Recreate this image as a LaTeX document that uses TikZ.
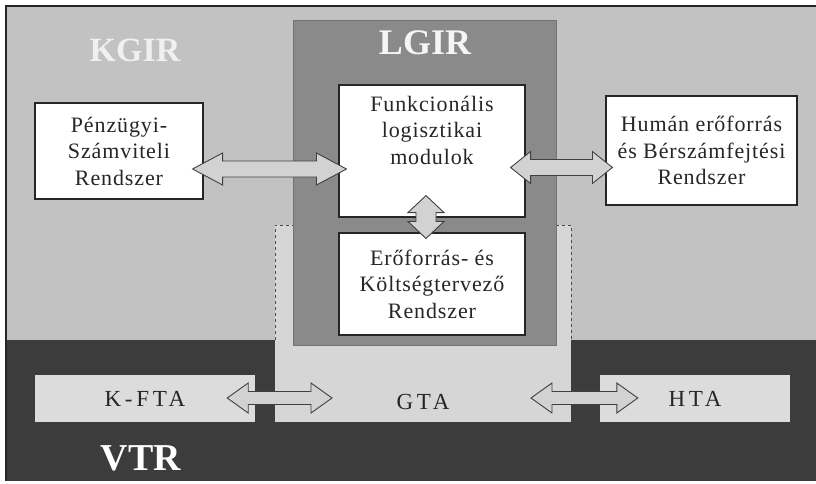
\documentclass[tikz,border=0pt]{standalone}
\usepackage{fontspec}
\setmainfont{Liberation Serif}
\newfontfamily\boxfont[LetterSpace=4]{Liberation Serif}
\newfontfamily\tafont[LetterSpace=16]{Liberation Serif}
\usetikzlibrary{positioning,calc}
\definecolor{kgirgray}{HTML}{C2C2C2}
\definecolor{lgirgray}{HTML}{8A8A8A}
\definecolor{vtrgray}{HTML}{3C3C3C}
\definecolor{gtagray}{HTML}{D6D6D6}
\definecolor{tagray}{HTML}{DCDCDC}
\definecolor{arrowgray}{HTML}{D2D2D2}
\tikzset{
  zone/.style={inner sep=0pt,outer sep=0pt},
  zonelabel/.style={inner sep=0pt,text=white},
  sysbox/.style={draw=black!85,line width=1.1pt,fill=white,inner sep=0pt,align=center,text=black!85,font=\boxfont\fontsize{22}{26.5}\selectfont},
  boxtext/.style={inner sep=0pt,align=center,text=black!85,font=\boxfont\fontsize{22}{26.5}\selectfont},
  tabox/.style={fill=tagray,inner sep=0pt,minimum height=47,text=black!85,font=\tafont\fontsize{23}{27}\selectfont},
  tatext/.style={inner sep=0pt,text=black!85,font=\tafont\fontsize{23}{27}\selectfont},
  zoneedge/.style={draw=black!70,dashed,line width=0.8pt},
  blockarrow/.style={draw=black!75,line width=0.9pt,fill=arrowgray,line join=miter}
}
% block double arrows: from, to, head length, head half size, shaft half size
\newcommand{\hdblarrow}[5]{%
  \path[blockarrow] let \p1=(#1), \p2=(#2) in
    (\x1,\y1) -- (\x1+#3pt,\y1+#4pt) -- (\x1+#3pt,\y1+#5pt) -- (\x2-#3pt,\y1+#5pt) -- (\x2-#3pt,\y1+#4pt)
    -- (\x2,\y1) -- (\x2-#3pt,\y1-#4pt) -- (\x2-#3pt,\y1-#5pt) -- (\x1+#3pt,\y1-#5pt) -- (\x1+#3pt,\y1-#4pt) -- cycle;}
\newcommand{\vdblarrow}[5]{%
  \path[blockarrow] let \p1=(#1), \p2=(#2) in
    (\x1,\y1) -- (\x1+#4pt,\y1-#3pt) -- (\x1+#5pt,\y1-#3pt) -- (\x1+#5pt,\y2+#3pt) -- (\x1+#4pt,\y2+#3pt)
    -- (\x1,\y2) -- (\x1-#4pt,\y2+#3pt) -- (\x1-#5pt,\y2+#3pt) -- (\x1-#5pt,\y1-#3pt) -- (\x1-#4pt,\y1-#3pt) -- cycle;}

\begin{document}
\begin{tikzpicture}[x=1pt,y=1pt]
  \useasboundingbox (0,0) rectangle (816,483);
  % zones
  \node[zone,fill=kgirgray,minimum width=810,minimum height=334] (kgir) at (411,310) {};
  \node[zone,fill=vtrgray,minimum width=810,minimum height=141] (vtr) at (411,72.5) {};
  \node[zone,fill=gtagray,minimum width=296,minimum height=197] (gtazone) at (423,159.5) {};
  \draw[zoneedge] (gtazone.north west |- kgir.south) -- (gtazone.north west) -- (gtazone.north east) -- (gtazone.north east |- kgir.south);
  \node[zone,fill=lgirgray,draw=black!55,line width=0.8pt,minimum width=263,minimum height=325] (lgir) at (424.5,300.5) {};
  \draw[black!85,line width=2pt] (vtr.south west) -- (kgir.north west) -- (kgir.north east);
  \node[zonelabel,text=black!6,font=\bfseries\fontsize{34}{34}\selectfont] (kgirlabel) at (135,433) {KGIR};
  \node[zonelabel,text=black!4,font=\bfseries\fontsize{36}{36}\selectfont] (lgirlabel) at (425,440) {LGIR};
  \node[zonelabel,font=\bfseries\fontsize{38}{38}\selectfont] (vtrlabel) at (141,25) {VTR};
  % systems
  \node[sysbox,minimum width=168,minimum height=96] (penz) at (119,332) {Pénzügyi-\\Számviteli\\Rendszer};
  \node[sysbox,minimum width=186,minimum height=132] (funk) at (432,332) {};
  \node[boxtext] (funktext) at (432,353) {Funkcionális\\logisztikai\\modulok};
  \node[sysbox,minimum width=186,minimum height=102] (ero) at (432,199) {Erőforrás- és\\Költségtervező\\Rendszer};
  \node[sysbox,minimum width=191,minimum height=109] (hum) at (701.5,332.5) {Humán erőforrás\\és Bérszámfejtési\\Rendszer};
  \node[tabox,minimum width=220] (kfta) at (145,84.5) {K-FTA};
  \node[tabox,minimum width=190] (hta) at (695,84.5) {HTA};
  \node[tatext] (gta) at (423,81) {GTA};
  % links
  \hdblarrow{$(penz.east)+(-11,-18)$}{$(funk.west)+(8,0)$}{30}{16}{8}
  \hdblarrow{$(funk.east)+(-15,-16.5)$}{$(hum.west)+(7,0)$}{20}{16}{8}
  \vdblarrow{$(funk.south)+(-6,22)$}{$(ero.north)+(-6,-6)$}{17}{18}{10}
  \hdblarrow{$(kfta.east)+(-28,0.5)$}{$(gtazone.west)+(57,0)$}{21}{15}{6.5}
  \hdblarrow{$(gtazone.east)+(-40,-74.5)$}{$(hta.west)+(38,0)$}{21}{15}{6.5}
\end{tikzpicture}
\end{document}
